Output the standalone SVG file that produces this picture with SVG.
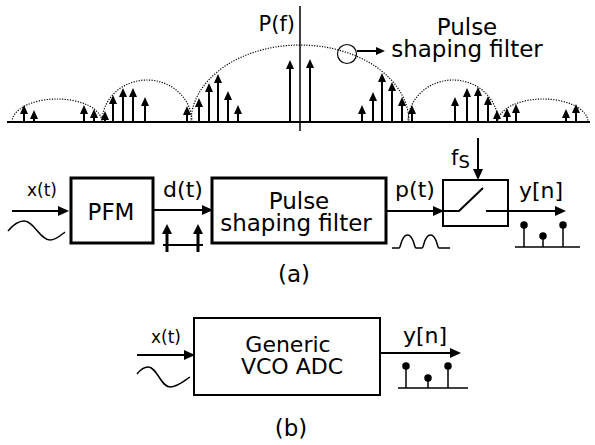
<svg xmlns="http://www.w3.org/2000/svg" width="595" height="445" viewBox="0 0 595 445">
<style>
text{font-family:"DejaVu Sans","Liberation Sans",sans-serif;fill:#000}
.imp{stroke:#000;stroke-width:2;marker-end:url(#sh)}
.lobe{fill:none;stroke:#000;stroke-width:1.2;stroke-dasharray:1.2 1.4}
.box3{fill:#fff;stroke:#000;stroke-width:3}
.box2{fill:#fff;stroke:#000;stroke-width:2}
.wire{fill:none;stroke:#000;stroke-width:2}
.arr{fill:none;stroke:#000;stroke-width:2;marker-end:url(#ah)}
.thin{fill:none;stroke:#000;stroke-width:1.5}
</style>
<defs>
<marker id="sh" markerUnits="userSpaceOnUse" markerWidth="9" markerHeight="8" refX="4" refY="4" orient="auto" overflow="visible">
<path d="M0,0 L9,4 L0,8 z" fill="#000"/>
</marker>
<marker id="ah" markerUnits="userSpaceOnUse" markerWidth="11" markerHeight="10" refX="5" refY="5" orient="auto" overflow="visible">
<path d="M0,0 L11,5 L0,10 z" fill="#000"/>
</marker>
<marker id="dh" markerUnits="userSpaceOnUse" markerWidth="10" markerHeight="10" refX="5" refY="5" orient="auto" overflow="visible">
<path d="M0,0 L10,5 L0,10 z" fill="#000"/>
</marker>
</defs>

<g id="spectrum">
<line x1="7" y1="122" x2="590" y2="122" stroke="#000" stroke-width="2"/>
<line x1="300" y1="6" x2="300" y2="131" stroke="#000" stroke-width="1.5"/>
<text x="295" y="31" font-size="21" text-anchor="end">P(f)</text>
<path class="lobe" d="M12,122 A45,23 0 0 1 102,122"/>
<path class="lobe" d="M102,122 A45,42 0 0 1 192,122"/>
<path class="lobe" d="M191,122 A109,77 0 0 1 409,122"/>
<path class="lobe" d="M408,122 A45,42 0 0 1 498,122"/>
<path class="lobe" d="M498,122 A45,23 0 0 1 588,122"/>
<g id="impulses">
<line class="imp" x1="24" y1="122" x2="24" y2="110"/>
<line class="imp" x1="34" y1="122" x2="34" y2="115"/>
<line class="imp" x1="84" y1="122" x2="84" y2="110"/>
<line class="imp" x1="94" y1="122" x2="94" y2="114"/>
<line class="imp" x1="105" y1="122" x2="105" y2="116"/>
<line class="imp" x1="113" y1="122" x2="113" y2="100"/>
<line class="imp" x1="123" y1="122" x2="123" y2="93"/>
<line class="imp" x1="133" y1="122" x2="133" y2="93"/>
<line class="imp" x1="145" y1="122" x2="145" y2="102"/>
<line class="imp" x1="187" y1="122" x2="187" y2="111"/>
<line class="imp" x1="199" y1="122" x2="199" y2="103"/>
<line class="imp" x1="209" y1="122" x2="209" y2="88"/>
<line class="imp" x1="218" y1="122" x2="218" y2="79"/>
<line class="imp" x1="228" y1="122" x2="228" y2="96"/>
<line class="imp" x1="238" y1="122" x2="238" y2="110"/>
<line class="imp" x1="290" y1="122" x2="290" y2="65"/>
<line class="imp" x1="310" y1="122" x2="310" y2="64"/>
<line class="imp" x1="362" y1="122" x2="362" y2="110"/>
<line class="imp" x1="373" y1="122" x2="373" y2="97"/>
<line class="imp" x1="382" y1="122" x2="382" y2="78"/>
<line class="imp" x1="392" y1="122" x2="392" y2="87"/>
<line class="imp" x1="402" y1="122" x2="402" y2="102"/>
<line class="imp" x1="412" y1="122" x2="412" y2="110"/>
<line class="imp" x1="455" y1="122" x2="455" y2="102"/>
<line class="imp" x1="467" y1="122" x2="467" y2="93"/>
<line class="imp" x1="478" y1="122" x2="478" y2="92"/>
<line class="imp" x1="488" y1="122" x2="488" y2="101"/>
<line class="imp" x1="497" y1="122" x2="497" y2="115"/>
<line class="imp" x1="507" y1="122" x2="507" y2="113"/>
<line class="imp" x1="516" y1="122" x2="516" y2="109"/>
<line class="imp" x1="566" y1="122" x2="566" y2="114"/>
<line class="imp" x1="576" y1="122" x2="576" y2="109"/>
</g>
<circle cx="347" cy="54" r="9.5" fill="none" stroke="#000" stroke-width="1.2"/>
<line x1="357" y1="51" x2="380" y2="51" stroke="#000" stroke-width="2" marker-end="url(#sh)"/>
<text x="467" y="35" font-size="23" text-anchor="middle">Pulse</text>
<text x="467" y="57" font-size="23" text-anchor="middle">shaping filter</text>
</g>

<g id="connectors">
<line class="arr" x1="12" y1="211" x2="63" y2="211"/>
<path class="thin" d="M8,231 C13,225 18,221 24,221 C34,221 40,240 50,240 C56,240 60,236 65,232"/>
<line class="arr" x1="153" y1="210" x2="207" y2="210"/>
<line class="arr" x1="386" y1="211" x2="438" y2="211"/>
<line class="arr" x1="478" y1="138" x2="478" y2="174"/>
<line class="arr" x1="486" y1="211" x2="560" y2="211"/>
<line class="arr" x1="137" y1="355" x2="189" y2="355"/>
<path class="thin" d="M137,374 C141,369 144,367 148,367 C157,367 161,387 170,387 C178,387 184,381 190,377"/>
<line class="arr" x1="380" y1="353" x2="455" y2="353"/>
</g>

<g id="pfm">
<rect class="box3" x="71" y="178" width="82" height="65"/>
<text x="111" y="220" font-size="23" text-anchor="middle">PFM</text>
</g>
<g id="shaping">
<rect class="box3" x="212" y="178" width="174" height="65"/>
<text x="299" y="209" font-size="23" text-anchor="middle">Pulse</text>
<text x="296" y="231" font-size="23" text-anchor="middle">shaping filter</text>
</g>
<g id="sampler">
<rect class="box2" x="443" y="180" width="65" height="46" stroke-width="2.5"/>
<path class="wire" d="M443,211 L459,211 L483,188"/>
<line x1="486" y1="211" x2="508" y2="211" stroke="#000" stroke-width="2"/>
</g>
<g id="vco">
<rect class="box2" x="194" y="318" width="186" height="77"/>
<text x="288" y="352" font-size="22" text-anchor="middle">Generic</text>
<text x="292" y="374" font-size="22" text-anchor="middle">VCO ADC</text>
</g>

<g id="labels">
<text x="42" y="196" font-size="17" text-anchor="middle">x(t)</text>
<text x="183" y="197" font-size="22" text-anchor="middle">d(t)</text>
<text x="415" y="197" font-size="22" text-anchor="middle">p(t)</text>
<text x="451" y="165" font-size="21">f<tspan font-size="18" dy="3">S</tspan></text>
<text x="541" y="198" font-size="22" text-anchor="middle">y[n]</text>
<text x="294" y="282" font-size="23" text-anchor="middle">(a)</text>
<text x="166" y="343" font-size="17" text-anchor="middle">x(t)</text>
<text x="425" y="343" font-size="22" text-anchor="middle">y[n]</text>
<text x="291" y="436" font-size="23" text-anchor="middle">(b)</text>
</g>

<g id="waveforms">
<line x1="163" y1="245" x2="203" y2="245" stroke="#000" stroke-width="2"/>
<line x1="167" y1="252" x2="167" y2="229" stroke="#000" stroke-width="3" marker-end="url(#dh)"/>
<line x1="198" y1="252" x2="198" y2="229" stroke="#000" stroke-width="3" marker-end="url(#dh)"/>
<path class="thin" d="M392,248 L399,248 C401,248 401,235 407.5,235 C414,235 414,248 416,248 L422,248 C424,248 424,235 430.5,235 C437,235 437,248 439,248 L450,248"/>
<line x1="515" y1="247" x2="580" y2="247" stroke="#000" stroke-width="1.5"/>
<g stroke="#000" stroke-width="1.5" fill="#000">
<line x1="524" y1="247" x2="524" y2="225"/><circle cx="524" cy="225" r="3"/>
<line x1="543" y1="247" x2="543" y2="236"/><circle cx="543" cy="236" r="3"/>
<line x1="563" y1="247" x2="563" y2="225"/><circle cx="563" cy="225" r="3"/>
</g>
<line x1="398" y1="388" x2="468" y2="388" stroke="#000" stroke-width="1.5"/>
<g stroke="#000" stroke-width="1.5" fill="#000">
<line x1="406" y1="388" x2="406" y2="366"/><circle cx="406" cy="366" r="3"/>
<line x1="428" y1="388" x2="428" y2="378"/><circle cx="428" cy="378" r="3"/>
<line x1="448" y1="388" x2="448" y2="366"/><circle cx="448" cy="366" r="3"/>
</g>
</g>
</svg>
